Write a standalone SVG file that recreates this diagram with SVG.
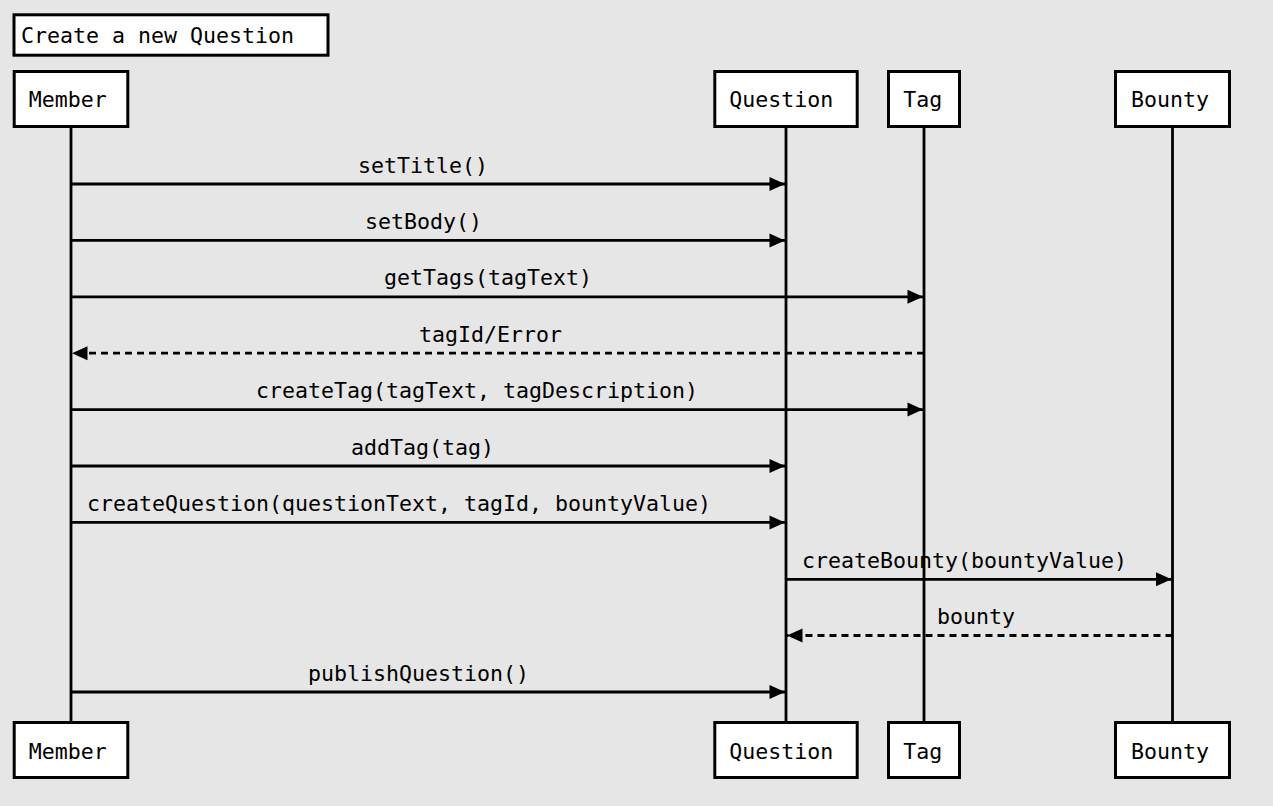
<svg xmlns="http://www.w3.org/2000/svg" width="1273" height="806" viewBox="0 0 1273 806">
<style>
text{font-family:"DejaVu Sans Mono","Liberation Mono",monospace;font-size:21.6px;fill:#000}
.box{fill:#fff;stroke:#000;stroke-width:3}
.life{stroke:#000;stroke-width:2.8;fill:none}
.msg{stroke:#000;stroke-width:2.8;fill:none}
.ret{stroke-dasharray:7 5}
</style>
<defs>
<marker id="ah" markerUnits="userSpaceOnUse" markerWidth="18" markerHeight="16" viewBox="0 0 18 16" refX="16.5" refY="8" orient="auto">
<path d="M1,1 L16.5,8 L1,15 Z" fill="#000"/>
</marker>
</defs>
<rect width="1273" height="806" fill="#e6e6e6"/>
<g id="title">
<rect class="box" x="14" y="14.8" width="314" height="40.4"/>
<text x="21" y="43">Create a new Question</text>
</g>
<g id="lifelines">
<line class="life" x1="71" y1="127" x2="71" y2="722"/>
<line class="life" x1="786" y1="127" x2="786" y2="722"/>
<line class="life" x1="924" y1="127" x2="924" y2="722"/>
<line class="life" x1="1172.5" y1="127" x2="1172.5" y2="722"/>
</g>
<g id="member">
<rect class="box" x="14.2" y="71.5" width="113.6" height="55"/>
<text x="28.7" y="107">Member</text>
<rect class="box" x="14.2" y="722.5" width="113.6" height="55"/>
<text x="28.7" y="759">Member</text>
</g>
<g id="question">
<rect class="box" x="714.8" y="71.5" width="142.4" height="55"/>
<text x="729.3" y="107">Question</text>
<rect class="box" x="714.8" y="722.5" width="142.4" height="55"/>
<text x="729.3" y="759">Question</text>
</g>
<g id="tag">
<rect class="box" x="888.5" y="71.5" width="71" height="55"/>
<text x="903.3" y="107">Tag</text>
<rect class="box" x="888.5" y="722.5" width="71" height="55"/>
<text x="903.3" y="759">Tag</text>
</g>
<g id="bounty">
<rect class="box" x="1115.5" y="71.5" width="114" height="55"/>
<text x="1131" y="107">Bounty</text>
<rect class="box" x="1115.5" y="722.5" width="114" height="55"/>
<text x="1131" y="759">Bounty</text>
</g>
<g id="connectors">
<line class="msg" x1="71" y1="184" x2="785" y2="184" marker-end="url(#ah)"/>
<text x="358" y="172.5">setTitle()</text>
<line class="msg" x1="71" y1="240.4" x2="785" y2="240.4" marker-end="url(#ah)"/>
<text x="365" y="228.9">setBody()</text>
<line class="msg" x1="71" y1="296.8" x2="923" y2="296.8" marker-end="url(#ah)"/>
<text x="384" y="285.3">getTags(tagText)</text>
<line class="msg ret" x1="924" y1="353.2" x2="72" y2="353.2" marker-end="url(#ah)"/>
<text x="419" y="341.7">tagId/Error</text>
<line class="msg" x1="71" y1="409.6" x2="923" y2="409.6" marker-end="url(#ah)"/>
<text x="256" y="398.1">createTag(tagText, tagDescription)</text>
<line class="msg" x1="71" y1="466" x2="785" y2="466" marker-end="url(#ah)"/>
<text x="351" y="454.5">addTag(tag)</text>
<line class="msg" x1="71" y1="522.4" x2="785" y2="522.4" marker-end="url(#ah)"/>
<text x="87" y="511.4">createQuestion(questionText, tagId, bountyValue)</text>
<line class="msg" x1="786" y1="579.3" x2="1171.5" y2="579.3" marker-end="url(#ah)"/>
<text x="802" y="568">createBounty(bountyValue)</text>
<line class="msg ret" x1="1172.5" y1="635.5" x2="787" y2="635.5" marker-end="url(#ah)"/>
<text x="937" y="624">bounty</text>
<line class="msg" x1="71" y1="692" x2="785" y2="692" marker-end="url(#ah)"/>
<text x="308" y="680.5">publishQuestion()</text>
</g>
</svg>
